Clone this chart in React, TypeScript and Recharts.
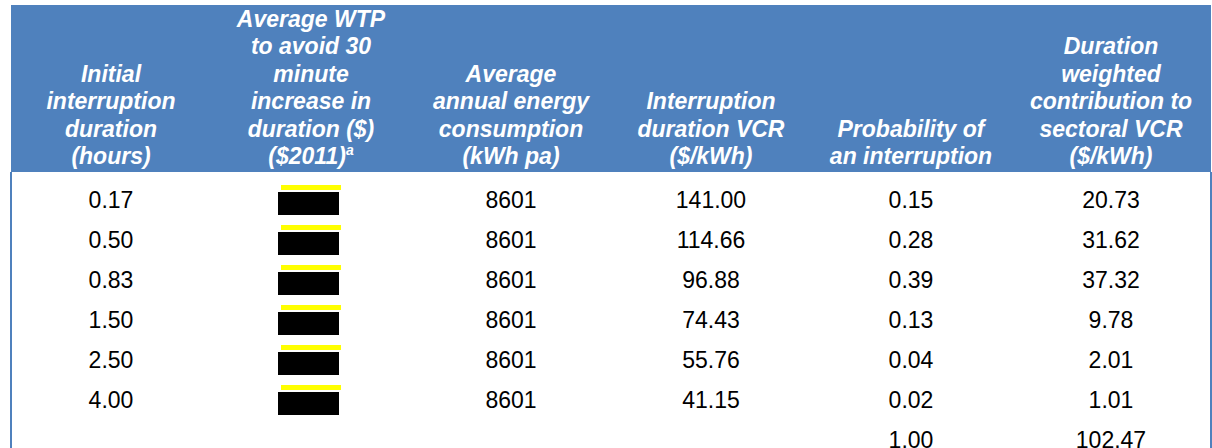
import { ScatterChart, Scatter, XAxis, YAxis, ReferenceLine } from 'recharts';

// table content
const headers = [
  ['Initial', 'interruption', 'duration', '(hours)'],
  ['Average WTP', 'to avoid 30', 'minute', 'increase in', 'duration ($)', '($2011)'],
  ['Average', 'annual energy', 'consumption', '(kWh pa)'],
  ['Interruption', 'duration VCR', '($/kWh)'],
  ['Probability of', 'an interruption'],
  ['Duration', 'weighted', 'contribution to', 'sectoral VCR', '($/kWh)'],
];
const durations = [0.17, 0.5, 0.83, 1.5, 2.5, 4.0];
const wtpRedacted = [true, true, true, true, true, true];
const energy = [8601, 8601, 8601, 8601, 8601, 8601];
const vcr = [141.0, 114.66, 96.88, 74.43, 55.76, 41.15];
const probability = [0.15, 0.28, 0.39, 0.13, 0.04, 0.02];
const contribution = [20.73, 31.62, 37.32, 9.78, 2.01, 1.01];
const probabilityTotal = 1.0;
const contributionTotal = 102.47;

const BLUE = '#4F81BD';
const FONT = '"Liberation Sans", Arial, sans-serif';
const COL_W = 200;
const HEAD_H = 167;

const toRows = (col: number, vals: number[], digits: number) =>
  vals.map((v, i) => ({ col, row: i, label: digits >= 0 ? v.toFixed(digits) : String(v) }));

const colDuration = toRows(0, durations, 2);
const colWtp = wtpRedacted.map((_, i) => ({ col: 1, row: i }));
const colEnergy = toRows(2, energy, -1);
const colVcr = toRows(3, vcr, 2);
const colProb = [...toRows(4, probability, 2), { col: 4, row: 6, label: probabilityTotal.toFixed(2) }];
const colContrib = [...toRows(5, contribution, 2), { col: 5, row: 6, label: contributionTotal.toFixed(2) }];

const CellText = (props: any) => {
  const { cx, cy, payload } = props;
  return (
    <text x={cx} y={cy + 8} textAnchor="middle" fontFamily={FONT} fontSize={23} fill="#000">
      {payload.label}
    </text>
  );
};

const Redacted = (props: any) => {
  const { cx, cy } = props;
  return (
    <g>
      <rect x={cx - 30} y={cy - 15} width={60} height={5} fill="#FFFF00" />
      <rect x={cx - 33} y={cy - 8} width={61} height={23} fill="#000" />
    </g>
  );
};

const HeaderTick = (props: any) => {
  const { x, y, payload } = props;
  const lines = headers[payload.value] || [];
  const lineH = 27.4;
  const lastBase = y - 8;
  return (
    <g>
      <rect x={x - COL_W / 2} y={y - HEAD_H} width={COL_W} height={HEAD_H} fill={BLUE} />
      {lines.map((t, i) => (
        <text
          key={i}
          x={x}
          y={lastBase - (lines.length - 1 - i) * lineH}
          textAnchor="middle"
          fontFamily={FONT}
          fontSize={23}
          fontWeight="bold"
          fontStyle="italic"
          fill="#fff"
        >
          {t}
          {payload.value === 1 && i === lines.length - 1 ? (
            <tspan fontSize={14} dy={-9}>a</tspan>
          ) : null}
        </text>
      ))}
    </g>
  );
};

export default function App() {
  return (
    <div style={{ position: 'absolute', left: 0, top: 0, width: 1212, height: 448, background: '#fff' }}>
      <ScatterChart width={1212} height={448} margin={{ top: 5, right: 1, bottom: 0, left: 11 }}>
        <XAxis
          type="number"
          dataKey="col"
          orientation="top"
          domain={[-0.5, 5.5]}
          ticks={[0, 1, 2, 3, 4, 5]}
          interval={0}
          height={HEAD_H}
          axisLine={false}
          tickLine={false}
          tickSize={0}
          tickMargin={0}
          tick={<HeaderTick />}
        />
        <YAxis type="number" dataKey="row" domain={[-0.7, 6.2]} reversed hide />
        <ReferenceLine x={-0.5} stroke={BLUE} strokeWidth={2} ifOverflow="visible" />
        <ReferenceLine x={5.5} stroke={BLUE} strokeWidth={2} ifOverflow="visible" />
        <Scatter data={colDuration} shape={<CellText />} isAnimationActive={false} />
        <Scatter data={colWtp} shape={<Redacted />} isAnimationActive={false} />
        <Scatter data={colEnergy} shape={<CellText />} isAnimationActive={false} />
        <Scatter data={colVcr} shape={<CellText />} isAnimationActive={false} />
        <Scatter data={colProb} shape={<CellText />} isAnimationActive={false} />
        <Scatter data={colContrib} shape={<CellText />} isAnimationActive={false} />
      </ScatterChart>
    </div>
  );
}
